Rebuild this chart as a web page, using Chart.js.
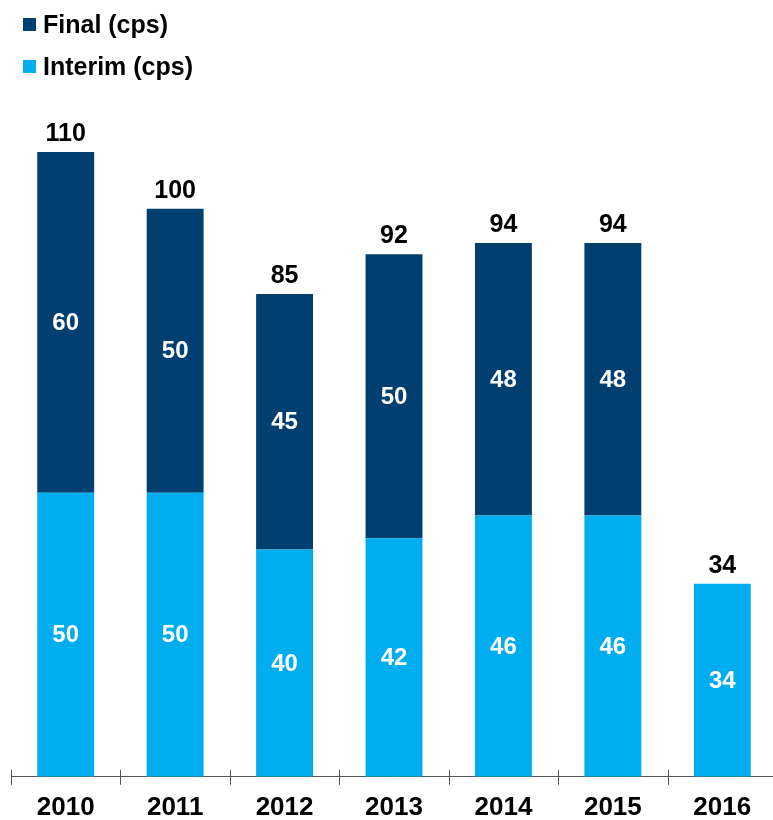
<!DOCTYPE html>
<html>
<head>
<meta charset="utf-8">
<script src="https://cdn.jsdelivr.net/npm/chart.js@4"></script>
<style>
  html, body { margin: 0; background: #fff; overflow: hidden; }
  #wrap { position: relative; width: 773px; height: 820px; overflow: hidden; }
  #legend { position: absolute; left: 23px; top: 3px; font: bold 25px "Liberation Sans", Arial, sans-serif; color: #000; }
  .item { display: flex; align-items: center; height: 42px; }
  .box { width: 13px; height: 13px; margin-right: 7px; }
</style>
</head>
<body>
<div id="wrap">
  <canvas id="chart" width="777" height="820"></canvas>
  <div id="legend">
    <div class="item"><span class="box" style="background:#003F6F"></span>Final (cps)</div>
    <div class="item"><span class="box" style="background:#00ADEE"></span>Interim (cps)</div>
  </div>
</div>
<script>
// Dividend per share
const years = ['2010', '2011', '2012', '2013', '2014', '2015', '2016'];
const interim = [50, 50, 40, 42, 46, 46, 34];
const final = [60, 50, 45, 50, 48, 48, null];

const darkBlue = '#003F6F';
const lightBlue = '#00ADEE';
const fontFamily = '"Liberation Sans", Arial, sans-serif';

// labels inside bars and totals on top
const labelPlugin = {
    id: 'barLabels',
    afterDatasetsDraw(chart) {
        const ctx = chart.ctx;
        ctx.save();
        ctx.textAlign = 'center';
        ctx.textBaseline = 'middle';
        chart.data.datasets.forEach((ds, i) => {
            const meta = chart.getDatasetMeta(i);
            meta.data.forEach((bar, j) => {
                if (ds.data[j] == null) return;
                ctx.fillStyle = '#fff';
                ctx.font = 'bold 24px ' + fontFamily;
                ctx.fillText(ds.data[j], bar.x, (bar.y + bar.base) / 2 + 1);
            });
        });
        // totals
        const top = chart.getDatasetMeta(1).data;
        const bottom = chart.getDatasetMeta(0).data;
        years.forEach((y, j) => {
            const total = (interim[j] || 0) + (final[j] || 0);
            const el = final[j] != null ? top[j] : bottom[j];
            ctx.fillStyle = '#000';
            ctx.font = 'bold 25px ' + fontFamily;
            ctx.fillText(total, el.x, el.y - 18);
        });
        // category tick marks across the axis
        const xs = chart.scales.x;
        const n = years.length;
        ctx.strokeStyle = '#555';
        ctx.lineWidth = 1;
        for (let i = 0; i <= n; i++) {
            const x = Math.round(xs.left + i * xs.width / n) + 0.5;
            ctx.beginPath();
            ctx.moveTo(x, xs.top - 7);
            ctx.lineTo(x, xs.top + 8);
            ctx.stroke();
        }
        ctx.restore();
    }
};

new Chart(document.getElementById('chart'), {
    type: 'bar',
    data: {
        labels: years,
        datasets: [{
            label: 'Interim (cps)',
            data: interim,
            backgroundColor: lightBlue,
            barPercentage: 0.52,
            categoryPercentage: 1
        }, {
            label: 'Final (cps)',
            data: final,
            backgroundColor: darkBlue,
            barPercentage: 0.52,
            categoryPercentage: 1
        }]
    },
    options: {
        responsive: false,
        animation: false,
        layout: {
            padding: { top: 152, left: 11, right: 0, bottom: -10 }
        },
        plugins: {
            legend: { display: false },
            tooltip: { enabled: false }
        },
        scales: {
            x: {
                stacked: true,
                grid: { display: false },
                border: { color: '#555', width: 1 },
                ticks: {
                    color: '#000',
                    padding: 7,
                    font: { family: fontFamily, size: 26, weight: 'bold' }
                }
            },
            y: {
                stacked: true,
                display: false,
                min: 0,
                max: 110
            }
        }
    },
    plugins: [labelPlugin]
});
</script>
</body>
</html>
